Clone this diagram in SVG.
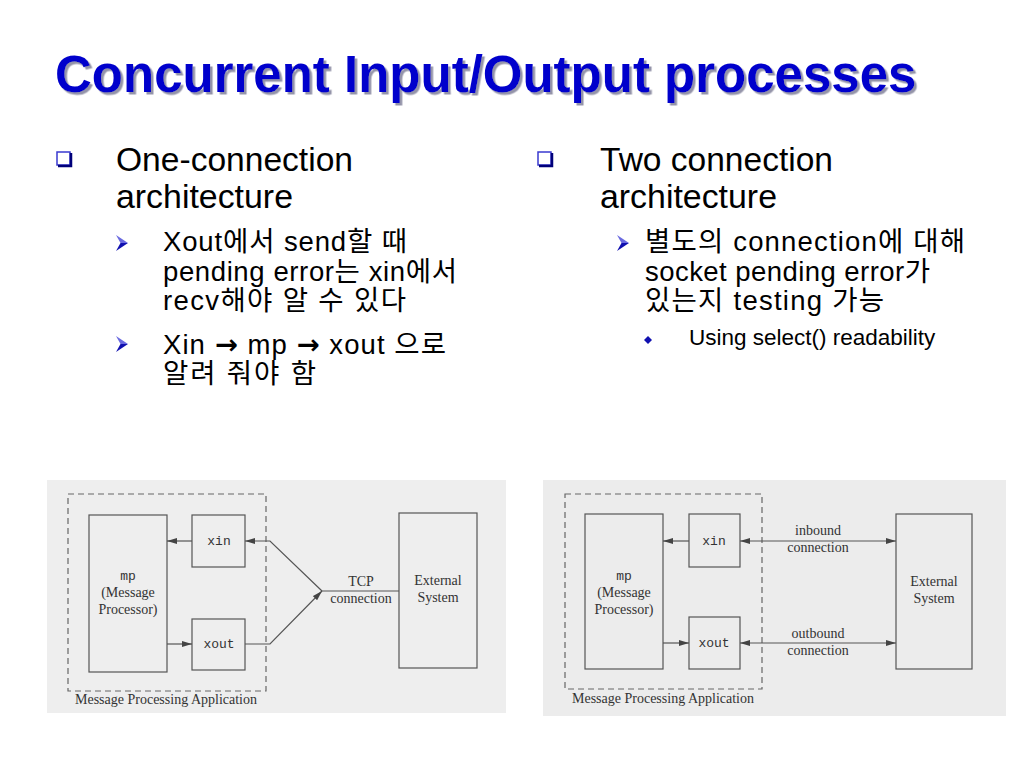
<svg xmlns="http://www.w3.org/2000/svg" width="1024" height="768" viewBox="0 0 1024 768">
<defs>
<style>
.title{font-family:"Liberation Sans",Arial,sans-serif;font-weight:bold;font-size:51px;fill:#0000cc}
.h1{font-family:"Liberation Sans",Arial,"Noto Sans CJK KR",sans-serif;font-size:33px;fill:#000}
.h2{font-family:"Liberation Sans",Arial,"Noto Sans CJK KR",sans-serif;font-size:27.5px;fill:#000}
.h3{font-family:"Liberation Sans",Arial,"Noto Sans CJK KR",sans-serif;font-size:22.5px;fill:#000}
.ar{font-family:"DejaVu Sans",sans-serif;font-weight:bold}
.box{fill:none;stroke:#555;stroke-width:1.2}
.dash{fill:none;stroke:#666;stroke-width:1.2;stroke-dasharray:6,4}
.ln{fill:none;stroke:#555;stroke-width:1.2}
.serif{font-family:"Liberation Serif","Times New Roman",serif;font-size:14px;fill:#333;text-anchor:middle}
.mono{font-family:"Liberation Mono","Courier New",monospace;font-size:13px;fill:#333;text-anchor:middle}
.cap{font-family:"Liberation Serif","Times New Roman",serif;font-size:14px;fill:#333}
</style>
<filter id="shadow" x="-5%" y="-20%" width="110%" height="150%">
<feDropShadow dx="2.5" dy="2.5" stdDeviation="0.6" flood-color="#8888a0" flood-opacity="0.9"/>
</filter>
<marker id="ah" viewBox="0 0 10 6" refX="10" refY="3" markerWidth="10" markerHeight="6" markerUnits="userSpaceOnUse" orient="auto-start-reverse">
<path d="M0,0 L10,3 L0,6 Z" fill="#444"/>
</marker>
<g id="sq">
<rect x="0" y="0" width="13" height="13" fill="none" stroke="#3a3ad0" stroke-width="1.5"/>
<path d="M14,1 V14 H1" fill="none" stroke="#00007a" stroke-width="2.5"/>
</g>
<g id="arr">
<path d="M0,0 L12,8 L4.5,8 Z" fill="#6a6ae0"/>
<path d="M0,16 L12,8 L4.5,8 Z" fill="#1010b0"/>
</g>
</defs>
<rect width="1024" height="768" fill="#fff"/>

<g id="title">
<text x="55" y="92" class="title" filter="url(#shadow)">Concurrent Input/Output processes</text>
</g>

<g id="left-text">
<use href="#sq" x="57" y="152"/>
<text x="116" y="171" class="h1" textLength="237" lengthAdjust="spacingAndGlyphs">One-connection</text>
<text x="116" y="208" class="h1" textLength="177" lengthAdjust="spacingAndGlyphs">architecture</text>
<use href="#arr" x="116" y="235"/>
<text x="163" y="251" class="h2" textLength="244">Xout에서 send할 때</text>
<text x="163" y="281" class="h2" textLength="294">pending error는 xin에서</text>
<text x="163" y="310" class="h2" textLength="243">recv해야 알 수 있다</text>
<use href="#arr" x="116" y="336"/>
<text x="163" y="354" class="h2" textLength="283">Xin <tspan class="ar">→</tspan> mp <tspan class="ar">→</tspan> xout 으로</text>
<text x="163" y="383" class="h2" textLength="153">알려 줘야 함</text>
</g>

<g id="right-text">
<use href="#sq" x="538" y="152"/>
<text x="600" y="171" class="h1" textLength="233" lengthAdjust="spacingAndGlyphs">Two connection</text>
<text x="600" y="208" class="h1" textLength="177" lengthAdjust="spacingAndGlyphs">architecture</text>
<use href="#arr" x="617" y="235"/>
<text x="645" y="251" class="h2" textLength="320">별도의 connection에 대해</text>
<text x="645" y="281" class="h2" textLength="285">socket pending error가</text>
<text x="645" y="310" class="h2" textLength="239">있는지 testing 가능</text>
<path d="M648,336 L652,340 L648,344 L644,340 Z" fill="#1010b0"/>
<text x="689" y="345" class="h3">Using select() readability</text>
</g>

<g id="fig1">
<rect x="47" y="480" width="459" height="233" fill="#eeeeee"/>
<rect x="68" y="494" width="198" height="197" class="dash"/>
<g id="f1-mp"><rect x="89" y="515" width="78" height="157" class="box"/>
<text x="128" y="580" class="mono">mp</text>
<text x="128" y="597" class="serif">(Message</text>
<text x="128" y="614" class="serif">Processor)</text></g>
<g id="f1-xin"><rect x="192" y="515" width="53" height="52" class="box"/>
<text x="219" y="545" class="mono">xin</text></g>
<g id="f1-xout"><rect x="192" y="619" width="53" height="51" class="box"/>
<text x="219" y="648" class="mono">xout</text></g>
<g id="f1-ext"><rect x="399" y="513" width="78" height="155" class="box"/>
<text x="438" y="585" class="serif">External</text>
<text x="438" y="602" class="serif">System</text></g>
<text x="361" y="586" class="serif">TCP</text>
<text x="361" y="603" class="serif">connection</text>
<text x="75" y="704" class="cap">Message Processing Application</text>
</g>

<g id="fig2">
<rect x="543" y="480" width="463" height="236" fill="#ececec"/>
<rect x="565" y="494" width="197" height="195" class="dash"/>
<g id="f2-mp"><rect x="585" y="514" width="78" height="155" class="box"/>
<text x="624" y="580" class="mono">mp</text>
<text x="624" y="597" class="serif">(Message</text>
<text x="624" y="614" class="serif">Processor)</text></g>
<g id="f2-xin"><rect x="689" y="514" width="51" height="53" class="box"/>
<text x="714" y="545" class="mono">xin</text></g>
<g id="f2-xout"><rect x="689" y="617" width="51" height="52" class="box"/>
<text x="714" y="647" class="mono">xout</text></g>
<g id="f2-ext"><rect x="896" y="514" width="76" height="155" class="box"/>
<text x="934" y="586" class="serif">External</text>
<text x="934" y="603" class="serif">System</text></g>
<text x="818" y="535" class="serif">inbound</text>
<text x="818" y="552" class="serif">connection</text>
<text x="818" y="638" class="serif">outbound</text>
<text x="818" y="655" class="serif">connection</text>
<text x="572" y="703" class="cap">Message Processing Application</text>
</g>

<g id="connectors">
<line x1="192" y1="541" x2="167" y2="541" class="ln" marker-end="url(#ah)"/>
<line x1="167" y1="644" x2="192" y2="644" class="ln" marker-end="url(#ah)"/>
<polyline points="322,591 270,541 245,541" class="ln" marker-end="url(#ah)"/>
<polyline points="245,644 270,644 322,591" class="ln" marker-end="url(#ah)"/>
<line x1="322" y1="591" x2="399" y2="591" class="ln"/>
<line x1="689" y1="541" x2="663" y2="541" class="ln" marker-end="url(#ah)"/>
<line x1="663" y1="643" x2="689" y2="643" class="ln" marker-end="url(#ah)"/>
<line x1="740" y1="541" x2="896" y2="541" class="ln" marker-start="url(#ah)" marker-end="url(#ah)"/>
<line x1="740" y1="643" x2="896" y2="643" class="ln" marker-start="url(#ah)" marker-end="url(#ah)"/>
</g>
</svg>
